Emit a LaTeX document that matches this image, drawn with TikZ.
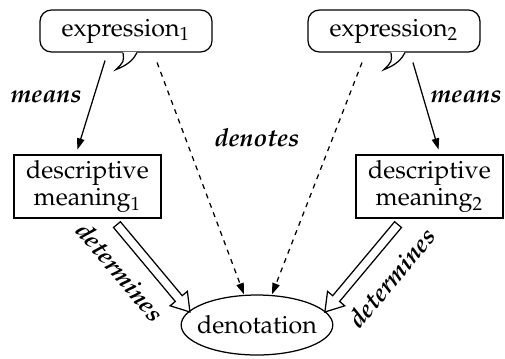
\documentclass[tikz,border=0pt]{standalone}
\usepackage[T1]{fontenc}
\usepackage{mathpazo}
\usetikzlibrary{shapes.geometric, arrows.meta, calc}

\begin{document}
\begin{tikzpicture}[x=1in,y=1in,
  bubble/.style={draw, line width=0.5pt, rounded corners=4.5pt, minimum width=0.952in, minimum height=0.232in, inner sep=0pt},
  meaningbox/.style={draw, line width=0.5pt, minimum width=0.814in, minimum height=0.349in, inner sep=0pt, align=center, font=\fontsize{10}{11}\selectfont},
  verb/.style={font=\bfseries\itshape},
  meansarrow/.style={line width=0.5pt, -{Triangle[length=4.5pt,width=3pt]}, shorten >=2pt},
  denotearrow/.style={line width=0.5pt, dash pattern=on 2pt off 2pt, -{Triangle[length=4.5pt,width=3pt]}}]
\useasboundingbox (0,0) rectangle (2.7951,1.9815);
% nodes
\node[bubble] (exp1) at (0.6974,1.8099) {expression$_1$};
\node[bubble] (exp2) at (2.1807,1.8099) {expression$_2$};
\node[meaningbox] (desc1) at (0.4843,0.9492) {descriptive\\meaning$_1$};
\node[meaningbox] (desc2) at (2.3772,0.9492) {descriptive\\meaning$_2$};
\node[draw, ellipse, line width=0.5pt, minimum width=0.797in, minimum height=0.332in, inner xsep=-2.5pt, inner ysep=0pt] (den) at (1.4224,0.1826) {denotation};
% bubble tails
\foreach \b in {exp1, exp2} {
  \fill[white] ($(\b.south)+(-0.0166,0.004)$) -- ($(\b.south)+(-0.0553,-0.0941)$) -- ($(\b.south)+(0.0609,0.004)$) -- cycle;
  \draw[line width=0.5pt] ($(\b.south)+(-0.0166,0)$) .. controls ($(\b.south)+(-0.0111,-0.0498)$) .. ($(\b.south)+(-0.0553,-0.0941)$)
    .. controls ($(\b.south)+(0.0166,-0.0664)$) and ($(\b.south)+(0.0443,-0.0332)$) .. ($(\b.south)+(0.0609,0)$);
}
% means
\draw[meansarrow] ($(exp1.south)+(-0.116,-0.044)$) -- ($(desc1.north)+(-0.064,0)$);
\draw[meansarrow] ($(exp2.south)+(0.105,-0.055)$) -- ($(desc2.north)+(0.058,0)$);
\node[verb] (means1) at (0.2546,1.4450) {means};
\node[verb] (means2) at (2.5792,1.4450) {means};
% denotes
\draw[denotearrow] ($(exp1.south)+(0.172,-0.055)$) -- ($(den.north)+(-0.072,0)$);
\draw[denotearrow] ($(exp2.south)+(-0.177,-0.055)$) -- ($(den.north)+(0.083,0)$);
\node[verb] (denotes) at (1.4224,1.2180) {denotes};
% determines
\foreach \from/\dx/\tip/\tx in {desc1/0.163/den/-0.371, desc2/-0.174/den/0.376} {
  \coordinate (s) at ($(\from.south)+(\dx,-0.033)$);
  \coordinate (t) at ($(\tip.center)+(\tx,0.072)$);
  \coordinate (h) at ($(t)!7pt!(s)$);
  \draw[line width=0.5pt, fill=white, line join=miter]
    ($(s)!1.8pt!90:(t)$) -- ($(h)!1.8pt!-90:(s)$) -- ($(h)!4.5pt!-90:(s)$) -- (t)
    -- ($(h)!4.5pt!90:(s)$) -- ($(h)!1.8pt!90:(s)$) -- ($(s)!1.8pt!-90:(t)$) -- cycle;
}
\node[verb, rotate=-50] (det1) at (0.6640,0.4760) {determines};
\node[verb, rotate=50] (det2) at (2.1660,0.4430) {determines};
\end{tikzpicture}
\end{document}
